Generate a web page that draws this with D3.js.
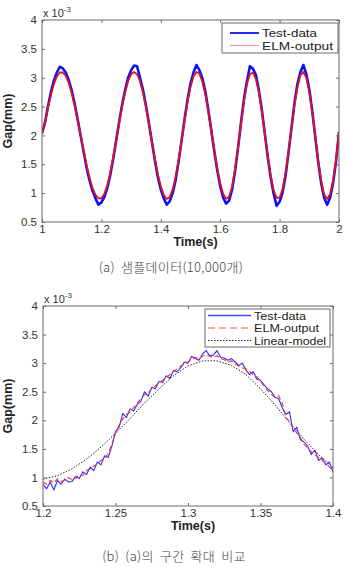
<!DOCTYPE html>
<html>
<head>
<meta charset="utf-8">
<script src="https://cdn.jsdelivr.net/npm/d3@7"></script>
<style>
  body { margin: 0; background: #fff; }
  svg text { font-family: "Liberation Sans", Arial, sans-serif; }
</style>
</head>
<body>
<div id="container"></div>
<script>
/***** data: (a) full sample *****/
let timeA = d3.range(101).map(i => +(1 + i * 0.01).toFixed(2));
let testA = [2.04,2.22,2.50,2.75,2.95,3.09,3.19,3.16,3.09,2.96,2.78,2.55,2.28,2.00,1.72,1.45,1.22,1.04,0.91,0.80,
  0.84,0.93,1.09,1.32,1.60,1.92,2.24,2.54,2.79,3.00,3.13,3.21,3.20,3.00,2.79,2.52,2.21,1.89,1.57,1.28,
  1.06,0.91,0.80,0.86,1.00,1.23,1.55,1.91,2.28,2.62,2.90,3.09,3.22,3.13,2.99,2.76,2.44,2.09,1.73,1.40,
  1.12,0.92,0.82,0.87,1.06,1.38,1.78,2.22,2.63,2.94,3.20,3.16,3.05,2.79,2.45,2.04,1.63,1.27,0.99,0.78,
  0.85,1.01,1.30,1.70,2.13,2.56,2.89,3.10,3.22,3.06,2.80,2.42,1.98,1.54,1.17,0.92,0.80,0.92,1.17,1.55,2.06];
let elmA = [2.03,2.21,2.47,2.70,2.89,3.02,3.09,3.09,3.03,2.91,2.73,2.51,2.26,2.00,1.74,1.49,1.27,1.09,0.97,0.91,
  0.91,0.99,1.14,1.36,1.63,1.92,2.22,2.51,2.75,2.94,3.06,3.10,3.06,2.94,2.74,2.49,2.20,1.89,1.60,1.33,
  1.12,0.97,0.90,0.93,1.06,1.28,1.58,1.91,2.26,2.58,2.84,3.02,3.10,3.07,2.93,2.71,2.41,2.09,1.75,1.43,
  1.17,0.99,0.90,0.94,1.11,1.42,1.79,2.21,2.59,2.89,3.06,3.09,2.98,2.75,2.42,2.04,1.65,1.31,1.05,0.92,
  0.92,1.07,1.35,1.72,2.12,2.52,2.83,3.04,3.10,3.00,2.75,2.40,1.98,1.56,1.22,0.98,0.90,0.98,1.22,1.58,2.06];

/***** data: (b) zoomed interval *****/
let timeB = d3.range(81).map(i => +(1.2 + i * 0.0025).toFixed(4));
let testB = [0.88,0.80,0.92,0.78,0.95,0.88,0.97,0.92,0.93,1.02,0.98,1.10,1.05,1.18,1.12,1.27,1.22,1.38,1.35,1.55,
  1.80,1.88,2.12,2.05,2.20,2.16,2.28,2.33,2.50,2.42,2.58,2.55,2.68,2.66,2.78,2.73,2.87,2.85,2.92,3.02,
  3.00,3.12,3.08,3.05,3.16,3.22,3.13,3.14,3.22,3.10,3.09,3.05,3.08,3.02,2.96,3.00,2.88,2.80,2.85,2.72,
  2.70,2.62,2.55,2.50,2.40,2.38,2.22,2.10,2.15,1.80,1.88,1.66,1.62,1.55,1.40,1.48,1.30,1.34,1.22,1.27,1.10];
let elmB = [0.92,0.88,0.95,0.90,0.98,0.93,0.95,1.00,0.96,0.98,1.05,1.03,1.12,1.15,1.20,1.23,1.30,1.33,1.42,1.58,
  1.78,1.92,2.02,2.10,2.15,2.22,2.30,2.38,2.45,2.48,2.55,2.60,2.66,2.70,2.75,2.80,2.85,2.90,2.95,2.98,
  3.02,3.06,3.10,3.08,3.12,3.15,3.12,3.10,3.13,3.08,3.06,3.02,3.04,2.98,2.95,2.92,2.90,2.85,2.80,2.76,
  2.68,2.60,2.52,2.45,2.40,2.43,2.30,2.05,1.98,1.85,1.78,1.70,1.58,1.52,1.45,1.40,1.35,1.30,1.25,1.18,1.12];
let timeLin = d3.range(21).map(i => +(1.2 + i * 0.01).toFixed(2));
let linB = [0.97,1.03,1.15,1.32,1.53,1.77,2.03,2.30,2.55,2.78,2.95,3.04,3.04,2.96,2.80,2.55,2.27,1.96,1.67,1.40,1.17];

let yTicks = [0.5, 1, 1.5, 2, 2.5, 3, 3.5, 4];
let xTicksA = [1, 1.2, 1.4, 1.6, 1.8, 2];
let xTicksB = [1.2, 1.25, 1.3, 1.35, 1.4];

let fmt = d3.format("~g");

let svg = d3.select("#container").append("svg")
  .attr("width", 347).attr("height", 570);

function drawChart(cfg) {
  let x = d3.scaleLinear().domain(cfg.xDomain).range([cfg.left, cfg.right]);
  let y = d3.scaleLinear().domain([0.5, 4]).range([cfg.bottom, cfg.top]);
  let g = svg.append("g");

  // series
  let clipId = "clip" + cfg.id;
  g.append("clipPath").attr("id", clipId).append("rect")
    .attr("x", cfg.left).attr("y", cfg.top)
    .attr("width", cfg.right - cfg.left).attr("height", cfg.bottom - cfg.top);
  let plot = g.append("g").attr("clip-path", "url(#" + clipId + ")");
  cfg.series.forEach(s => {
    let line = d3.line().x((d, i) => x(s.t[i])).y(d => y(d));
    plot.append("path").datum(s.v)
      .attr("fill", "none")
      .attr("stroke", s.color)
      .attr("stroke-width", s.width)
      .attr("stroke-dasharray", s.dash || null)
      .attr("stroke-linejoin", "round")
      .attr("d", line);
  });

  // box + ticks
  let axisColor = "#6a6a6a";
  g.append("rect").attr("x", cfg.left).attr("y", cfg.top)
    .attr("width", cfg.right - cfg.left).attr("height", cfg.bottom - cfg.top)
    .attr("fill", "none").attr("stroke", axisColor).attr("stroke-width", 1);

  let xb = g.append("g").attr("transform", "translate(0," + cfg.bottom + ")")
    .call(d3.axisBottom(x).tickValues(cfg.xTicks).tickFormat(fmt).tickSizeInner(-3).tickSizeOuter(0).tickPadding(3));
  let xt = g.append("g").attr("transform", "translate(0," + cfg.top + ")")
    .call(d3.axisTop(x).tickValues(cfg.xTicks).tickSizeInner(-3).tickSizeOuter(0).tickFormat(""));
  let yl = g.append("g").attr("transform", "translate(" + cfg.left + ",0)")
    .call(d3.axisLeft(y).tickValues(yTicks).tickFormat(fmt).tickSizeInner(-3).tickSizeOuter(0).tickPadding(5));
  let yr = g.append("g").attr("transform", "translate(" + cfg.right + ",0)")
    .call(d3.axisRight(y).tickValues(yTicks).tickSizeInner(-3).tickSizeOuter(0).tickFormat(""));
  [xb, xt, yl, yr].forEach(a => {
    a.select(".domain").remove();
    a.selectAll("line").attr("stroke", axisColor);
    a.selectAll("text").attr("fill", "#333").style("font-size", "11.5px")
      .style("font-family", "'Liberation Sans', Arial, sans-serif");
  });

  // exponent label
  let ex = g.append("text").attr("x", cfg.left + 1).attr("y", cfg.top - 3)
    .attr("fill", "#333").style("font-size", "11px");
  ex.append("tspan").text("x 10");
  ex.append("tspan").attr("dy", -5).style("font-size", "8px").text("-3");

  // axis titles
  g.append("text").attr("x", (cfg.left + cfg.right) / 2 + 5).attr("y", cfg.bottom + 24)
    .attr("text-anchor", "middle").attr("fill", "#222")
    .style("font-size", "12.5px").style("font-weight", "bold").text("Time(s)");
  g.append("text")
    .attr("transform", "translate(12," + ((cfg.top + cfg.bottom) / 2) + ") rotate(-90)")
    .attr("text-anchor", "middle").attr("fill", "#222")
    .style("font-size", "12.5px").style("font-weight", "bold").text("Gap(mm)");

  // legend
  let lg = cfg.legend;
  g.append("rect").attr("x", lg.x).attr("y", lg.y).attr("width", lg.w).attr("height", lg.h)
    .attr("fill", "#fff").attr("stroke", axisColor).attr("stroke-width", 1);
  lg.items.forEach((it, i) => {
    let yy = lg.y + lg.first + i * lg.step;
    g.append("line").attr("x1", lg.x + lg.lineStart).attr("x2", lg.x + lg.lineEnd)
      .attr("y1", yy).attr("y2", yy)
      .attr("stroke", it.color).attr("stroke-width", it.width)
      .attr("stroke-dasharray", it.dash || null);
    g.append("text").attr("x", lg.x + lg.lineEnd + 3).attr("y", yy + 4)
      .attr("fill", "#222").style("font-size", "11px")
      .attr("textLength", it.len).attr("lengthAdjust", "spacingAndGlyphs")
      .text(it.label);
  });

  // caption
  svg.append("text").attr("x", cfg.capX).attr("y", cfg.capY)
    .attr("text-anchor", "middle").attr("fill", "#444")
    .style("font-family", "'Noto Sans CJK KR', 'Noto Sans', sans-serif")
    .style("font-size", "13px").style("font-weight", "300")
    .style("letter-spacing", "0.3px").style("word-spacing", "3px")
    .text(cfg.caption);
}

drawChart({
  id: "a", xDomain: [1, 2], xTicks: xTicksA,
  left: 42, right: 339, top: 20, bottom: 222,
  series: [
    {t: timeA, v: testA, color: "#1010f0", width: 2.6},
    {t: timeA, v: elmA, color: "#e8101c", width: 1.8}
  ],
  legend: {x: 222, y: 23, w: 116, h: 30, first: 10, step: 12.5, lineStart: 8, lineEnd: 37,
    items: [
      {label: "Test-data", color: "#1010f0", width: 1.8, len: 55},
      {label: "ELM-output", color: "#f28a98", width: 1, len: 71}
    ]},
  caption: "(a) 샘플데이터(10,000개)", capX: 171, capY: 272
});

drawChart({
  id: "b", xDomain: [1.2, 1.4], xTicks: xTicksB,
  left: 43, right: 333, top: 306, bottom: 506,
  series: [
    {t: timeLin, v: linB, color: "#222", width: 1, dash: "1.5,1.5"},
    {t: timeB, v: testB, color: "#3030ff", width: 1.1},
    {t: timeB, v: elmB, color: "#ff3030", width: 1.1, dash: "5,3"}
  ],
  legend: {x: 205, y: 309, w: 125, h: 38, first: 6.5, step: 12.5, lineStart: 3, lineEnd: 46,
    items: [
      {label: "Test-data", color: "#4848ff", width: 1.3, len: 52},
      {label: "ELM-output", color: "#ff5050", width: 1.2, dash: "7,4", len: 65},
      {label: "Linear-model", color: "#222", width: 1, dash: "1.5,1.5", len: 72}
    ]},
  caption: "(b) (a)의 구간 확대 비교", capX: 174, capY: 561
});
</script>
</body>
</html>
